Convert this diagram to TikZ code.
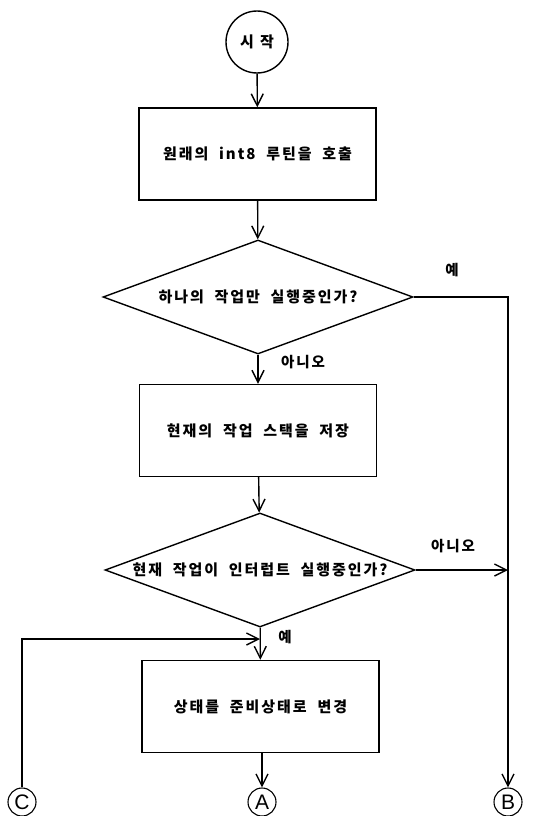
\documentclass[tikz,border=0pt]{standalone}
\usepackage{fontspec}
\setmainfont{Noto Sans CJK KR}[LetterSpace=13,WordSpace=2]
\newfontfamily\connfont{Liberation Sans}
\usetikzlibrary{shapes.geometric,arrows.meta}
\begin{document}
\begin{tikzpicture}[x=1pt,y=-1pt, line width=1.4pt,
  every node/.style={font=\fontsize{15}{17}\selectfont\bfseries},
  proc/.style={draw, minimum width=237pt, minimum height=92pt, inner sep=0},
  dec/.style={draw, diamond, minimum width=310pt, minimum height=114pt, inner sep=0, aspect=2.7},
  term/.style={draw, circle, minimum size=62pt, inner sep=0},
  conn/.style={draw, circle, minimum size=28pt, inner sep=0, line width=1.1pt, font=\connfont\fontsize{21}{21}\selectfont},
  lbl/.style={font=\fontsize{14.5}{16}\selectfont\bfseries},
  arr/.style={-{Straight Barb[length=12pt,width=12pt]}},
]
\useasboundingbox (0,0) rectangle (536,816);
\node[term] (start) at (257,42) {시\hspace{6pt}작};
\node[proc] (p1) at (257.5,154) {원래의 int8 루틴을 호출};
\node[dec] (d1) at (258,297) {하나의 작업만 실행중인가?};
\node[proc] (p2) at (258,430.5) {현재의 작업 스택을 저장};
\node[dec] (d2) at (260,570) {현재 작업이 인터럽트 실행중인가?};
\node[proc] (p3) at (260.5,706.5) {상태를 준비상태로 변경};
\node[conn] (A) at (262,802) {A};
\node[conn] (B) at (508,802) {B};
\node[conn] (C) at (22,802) {C};
\coordinate (bj) at (508,570);
\coordinate (cj) at (260,639);
\draw[arr] (start) -- (p1);
\draw[arr] (p1) -- (d1);
\draw[arr] (d1) -- (p2);
\draw[arr] (p2) -- (d2);
\draw[arr] (d2) -- (p3);
\draw[arr] (p3.south -| A.north) -- (A);
\draw[arr] (d1.east) -| (B.north);
\draw[arr] (d2.east) -- (bj);
\draw[arr] (C.north) |- (cj);
\node[lbl] (y1) at (452,270) {예};
\node[lbl] (n1) at (303,362) {아니오};
\node[lbl] (n2) at (453,546) {아니오};
\node[lbl] (y2) at (285,637) {예};
\end{tikzpicture}
\end{document}
